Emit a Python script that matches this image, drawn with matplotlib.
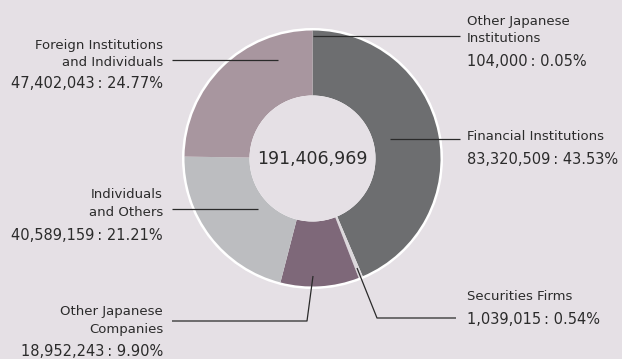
import matplotlib
matplotlib.use("Agg")
import matplotlib.pyplot as plt
from matplotlib.patches import Circle

# Shareholder composition (number of shares)
categories = [
    "Other Japanese Institutions",
    "Financial Institutions",
    "Securities Firms",
    "Other Japanese Companies",
    "Individuals and Others",
    "Foreign Institutions and Individuals",
]
shares = [104000, 83320509, 1039015, 18952243, 40589159, 47402043]
percents = [0.05, 43.53, 0.54, 9.90, 21.21, 24.77]
name_lines = [
    ["Other Japanese", "Institutions"],
    ["Financial Institutions"],
    ["Securities Firms"],
    ["Other Japanese", "Companies"],
    ["Individuals", "and Others"],
    ["Foreign Institutions", "and Individuals"],
]
colors = ["#5a5a5c", "#6d6e70", "#dcd8dc", "#7e6879", "#bcbdc0", "#a8969f"]
total = sum(shares)

W, H = 622, 359
BG = "#e5e0e5"
TXT = "#2b2b2b"
FONT = "DejaVu Sans"

fig = plt.figure(figsize=(W / 100, H / 100), dpi=100, facecolor=BG)
ax = fig.add_axes([0, 0, 1, 1])


def py(y):
    """Convert a top-down pixel row to the axes' y coordinate."""
    return H - y


cx, cy = 312.5, py(158.5)
r_out, r_in = 128, 63

# white rim behind the ring
ax.add_patch(Circle((cx, cy), r_out + 2.5, facecolor="white", edgecolor="none", zorder=1))

wedges, _ = ax.pie(
    shares,
    colors=colors,
    startangle=90,
    counterclock=False,
    radius=r_out,
    center=(cx, cy),
    wedgeprops=dict(width=r_out - r_in, edgecolor="none", linewidth=0),
    frame=True,
)
for w in wedges:
    w.set_zorder(2)
# open hole in the middle
ax.add_patch(Circle((cx, cy), r_in, facecolor=BG, edgecolor="none", zorder=3))

ax.set_xlim(0, W)
ax.set_ylim(0, H)
ax.set_aspect("equal")
ax.axis("off")

ax.text(cx, cy, f"{total:,}", ha="center", va="center", fontsize=12.5,
        color=TXT, family=FONT, zorder=5)

# label layout: (anchor x, alignment, name line rows, value row)
layout = {
    0: (467, "left", [21, 39], 62),
    1: (467, "left", [137], 160),
    2: (467, "left", [297], 319),
    3: (163, "right", [312, 330], 352),
    4: (163, "right", [195, 213], 236),
    5: (163, "right", [45, 62], 84),
}
# leader polylines in pixel rows/cols
leaders = {
    0: [(313, 36), (460, 36)],
    1: [(390, 139), (460, 139)],
    2: [(357, 268), (377, 318), (456, 318)],
    3: [(313, 276), (307, 321), (172, 321)],
    4: [(258, 209), (172, 209)],
    5: [(278, 60), (172, 60)],
}

for i in range(len(categories)):
    x, ha, rows, vrow = layout[i]
    for line, row in zip(name_lines[i], rows):
        ax.text(x, py(row), line, ha=ha, va="center", fontsize=9.5,
                color=TXT, family=FONT, zorder=5)
    ax.text(x, py(vrow), f"{shares[i]:,}\u2009: {percents[i]:.2f}%", ha=ha,
            va="center", fontsize=10.5, color=TXT, family=FONT, zorder=5)
    pts = leaders[i]
    ax.plot([p[0] for p in pts], [py(p[1]) for p in pts], color="#2a2a2a",
            lw=0.9, solid_capstyle="butt", zorder=6)

fig.savefig("out.png", dpi=100, facecolor=BG)
